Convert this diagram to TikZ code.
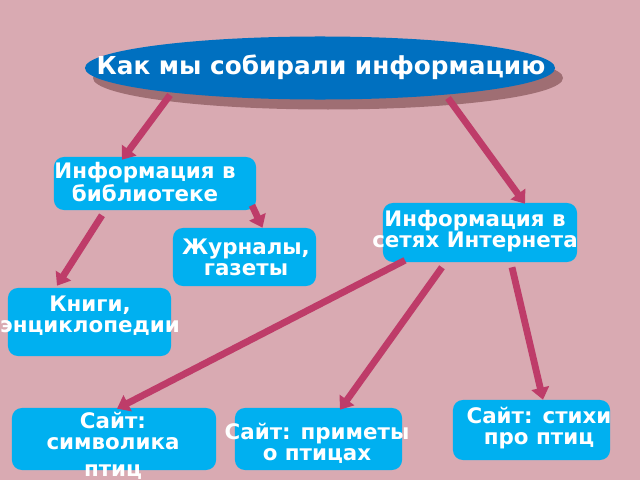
\documentclass[tikz,border=0pt]{standalone}
\usepackage{fontspec}
\newfontfamily\dvsans{DejaVu Sans}
\usepackage{tikz}
\usetikzlibrary{positioning,calc,shapes.geometric,arrows.meta}

\definecolor{bgpink}{RGB}{217,170,178}
\definecolor{titleblue}{RGB}{0,112,192}
\definecolor{boxcyan}{RGB}{0,176,240}
\definecolor{linkred}{RGB}{190,60,105}

\tikzset{
  box/.style={fill=boxcyan, rounded corners=7pt, inner sep=0pt},
  txt/.style={text=white, align=center, font=\dvsans\bfseries\fontsize{15.2}{15}\selectfont},
  link/.style={draw=linkred, line width=0.17cm, -{Triangle[length=0.3cm,width=0.44cm]}}
}

\begin{document}
\begin{tikzpicture}[x=0.025cm,y=-0.025cm]
\useasboundingbox (0,0) rectangle (640,480);
\fill[bgpink] (0,0) rectangle (640,480);

% title
\fill[black!80!red, opacity=0.35] (328,78) ellipse [x radius=235, y radius=31.5];
\node[ellipse, fill=titleblue, inner sep=0pt, minimum width=11.75cm, minimum height=1.575cm] (top) at (320,68) {};
\node[txt, font=\dvsans\bfseries\fontsize{17.6}{18}\selectfont] (top-t) at (321,67) {Как мы собирали информацию};

% boxes
\node[box, minimum width=5.05cm, minimum height=1.325cm] (lib) at (155,183.5) {};
\node[box, minimum width=3.575cm, minimum height=1.45cm] (mag) at (244.5,257) {};
\node[box, minimum width=4.85cm, minimum height=1.475cm] (net) at (480,232.5) {};
\node[box, minimum width=4.075cm, minimum height=1.7cm] (book) at (89.5,322) {};
\node[box, minimum width=5.1cm, minimum height=1.55cm] (sym) at (114,439) {};
\node[box, minimum width=4.175cm, minimum height=1.55cm] (omen) at (318.5,439) {};
\node[box, minimum width=3.925cm, minimum height=1.5cm] (poem) at (531.5,430) {};

\node[txt] (lib-t) at (145,182) {Информация в\\библиотеке};
\node[txt] (mag-t) at (246,257) {Журналы,\\газеты};
\node[txt] (net-t) at (475,231) {Информация в\\сетях Интернета};
\node[txt] (book-t) at (90,316) {Книги,\\энциклопедии};
\node[txt] (sym-t) at (113,446) {Сайт:\\символика\\[4pt]птиц};
\node[txt] (omen-t) at (317,443) {Сайт: приметы\\о птицах};
\node[txt] (poem-t) at (539,428) {Сайт: стихи\\про птиц};

% arrows
\draw[link] ([shift={(-150,27)}]top.center) -- ([shift={(-33,3)}]lib.north);
\draw[link] ([shift={(128,30)}]top.center) -- ([shift={(45,1)}]net.north);
\draw[link] ([shift={(97,-5)}]lib.south) -- ([shift={(18,0)}]mag.north);
\draw[link] ([shift={(-53,5)}]lib.south) -- ([shift={(-32.5,-2)}]book.north);
\draw[link] ([shift={(-75,-2)}]net.south) -- ([shift={(3,1)}]sym.north);
\draw[link] ([shift={(-38,5)}]net.south) -- ([shift={(21.5,2)}]omen.north);
\draw[link] ([shift={(32,5)}]net.south) -- ([shift={(11.5,0)}]poem.north);
\end{tikzpicture}
\end{document}
